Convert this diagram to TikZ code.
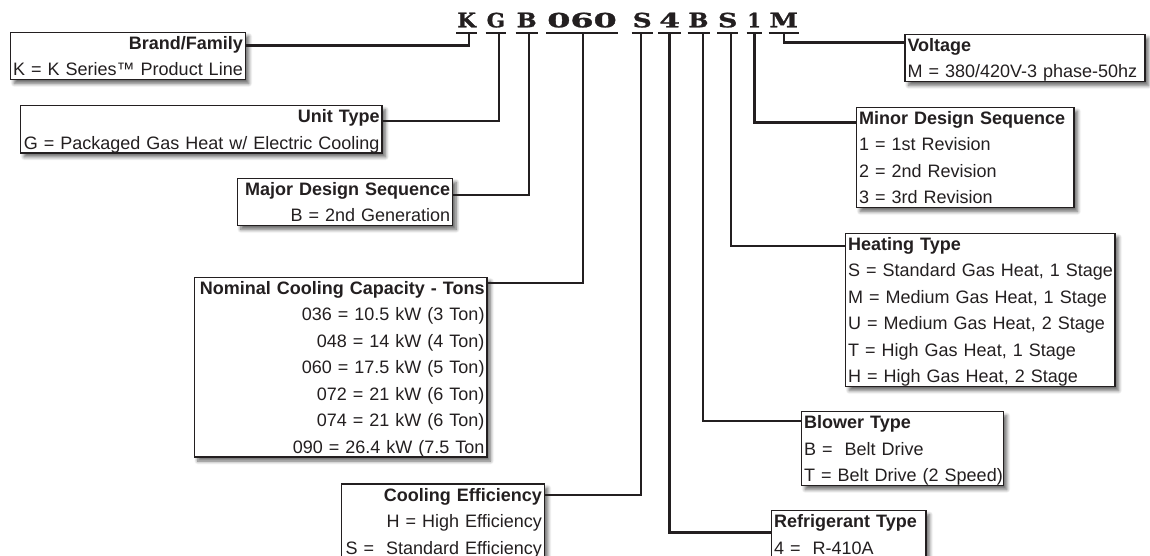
\documentclass[tikz,border=0pt]{standalone}
\usepackage{fontspec}
\usetikzlibrary{shadows.blur}
\newfontfamily\boxfont{Liberation Sans}
\newfontfamily\codefont{DejaVu Serif}[BoldFeatures={FakeBold=1.2}]
\definecolor{ink}{HTML}{231F20}
\newcommand{\boxstrut}{\rule[-3.7pt]{0pt}{20.7pt}}
\newcommand{\rline}[1]{\makebox[\hsize][r]{#1\boxstrut}}
\newcommand{\lline}[1]{\makebox[\hsize][l]{#1\boxstrut}}
\newcommand{\codeglyph}[2]{\resizebox{#1pt}{14.6pt}{\codefont\bfseries #2}}
\tikzset{
  infobox/.style={draw=ink, line width=1.2pt, fill=white, outer sep=0pt,
    inner xsep=2.5pt, inner ysep=0pt, anchor=north west, text=ink,
    font=\boxfont\fontsize{18}{26.5}\selectfont,
    blur shadow={shadow xshift=3.5pt, shadow yshift=-4pt, shadow blur radius=3.5pt, shadow blur steps=8, shadow opacity=60}},
  lbox/.style={infobox, align=right},
  rbox/.style={infobox, align=left},
  codeletter/.style={inner xsep=1pt, inner ysep=0pt, outer sep=0pt, text depth=6pt, anchor=base west, text=ink},
  uline/.style={draw=ink, line width=2.4pt},
  conn/.style={draw=ink, line width=2.4pt},
}
\begin{document}
\begin{tikzpicture}[x=1pt, y=-1pt]
\useasboundingbox (0,0) rectangle (1150,556);

% code letters
\node[codeletter] (cK)  at (456.3,27.3) {\codeglyph{18.7}{K}};
\node[codeletter] (cG)  at (485.7,27.3) {\codeglyph{18.3}{G}};
\node[codeletter] (cB)  at (515.7,27.3) {\codeglyph{20}{B}};
\node[codeletter] (cN)  at (546.3,27.3) {\codeglyph{69.4}{060}};
\node[codeletter] (cS)  at (631.7,27.3) {\codeglyph{19}{S}};
\node[codeletter] (c4)  at (658.3,27.3) {\codeglyph{20.7}{4}};
\node[codeletter] (cBb) at (687.5,27.3) {\codeglyph{20}{B}};
\node[codeletter] (cSb) at (717,27.3)   {\codeglyph{19.4}{S}};
\node[codeletter] (c1)  at (746.5,27.3) {\codeglyph{13.3}{1}};
\node[codeletter] (cM)  at (768.5,27.3) {\codeglyph{28.5}{M}};
\foreach \n in {cK,cG,cB,cN,cS,c4,cBb,cSb,c1,cM}
  \draw[uline] (\n.south west) -- (\n.south east);

% left boxes
\node[lbox, text width=229.6pt] (brand) at (10.7,32.3)
  {\rline{\textbf{Brand/Family}}\\\rline{K = K Series™ Product Line}};
\node[lbox, text width=356.3pt] (unit) at (20.7,105.7)
  {\rline{\textbf{Unit Type}}\\\rline{G = Packaged Gas Heat w/ Electric Cooling}};
\node[lbox, text width=210.4pt] (major) at (237.3,178.3)
  {\rline{\textbf{Major Design Sequence}}\\\rline{B = 2nd Generation}};
\node[lbox, text width=287.7pt] (nominal) at (194.3,277.3)
  {\rline{\textbf{Nominal Cooling Capacity - Tons}}\\
   \rline{036 = 10.5 kW (3 Ton)}\\
   \rline{048 = 14 kW (4 Ton)}\\
   \rline{060 = 17.5 kW (5 Ton)}\\
   \rline{072 = 21 kW (6 Ton)}\\
   \rline{074 = 21 kW (6 Ton)}\\
   \rline{090 = 26.4 kW (7.5 Ton}};
\node[lbox, text width=197.6pt] (cooleff) at (341.7,484)
  {\rline{\textbf{Cooling Efficiency}}\\
   \rline{H = High Efficiency}\\
   \rline{S = \ Standard Efficiency}};

% right boxes
\node[rbox, text width=235pt] (volt) at (905,34.3)
  {\lline{\textbf{Voltage}}\\\lline{M = 380/420V-3 phase-50hz}};
\node[rbox, text width=212.3pt] (minor) at (856.7,107.3)
  {\lline{\textbf{Minor Design Sequence}}\\
   \lline{1 = 1st Revision}\\
   \lline{2 = 2nd Revision}\\
   \lline{3 = 3rd Revision}};
\node[rbox, text width=264.3pt] (heat) at (845.7,233.3)
  {\lline{\textbf{Heating Type}}\\
   \lline{S = Standard Gas Heat, 1 Stage}\\
   \lline{M = Medium Gas Heat, 1 Stage}\\
   \lline{U = Medium Gas Heat, 2 Stage}\\
   \lline{T = High Gas Heat, 1 Stage}\\
   \lline{H = High Gas Heat, 2 Stage}};
\node[rbox, text width=196.6pt] (blower) at (801.7,411.7)
  {\lline{\textbf{Blower Type}}\\
   \lline{B = \ Belt Drive}\\
   \lline{T = Belt Drive (2 Speed)}};
\node[rbox, text width=149.3pt] (refrig) at (771.7,510.7)
  {\lline{\textbf{Refrigerant Type}}\\
   \lline{4 = \ R-410A}};

% connectors
\draw[conn] ([xshift=2.6pt]cK.south) |- ([yshift=-13.4pt]brand.north east);
\draw[conn] ([xshift=3pt]cG.south) |- ([yshift=-15.3pt]unit.north east);
\draw[conn] ([xshift=2pt]cB.south) |- ([yshift=-16.7pt]major.north east);
\draw[conn] ([xshift=1pt]cN.south) |- ([yshift=-5.4pt]nominal.north east);
\draw[conn] ([xshift=-1pt]cS.south) |- ([yshift=-11pt]cooleff.north east);
\draw[conn] (c4.south) |- ([yshift=-21.6pt]refrig.north west);
\draw[conn] ([xshift=4.5pt]cBb.south) |- ([yshift=-9.3pt]blower.north west);
\draw[conn] ([xshift=3pt]cSb.south) |- ([yshift=-12.4pt]heat.north west);
\draw[conn] ([xshift=0.5pt]c1.south) |- ([yshift=-15.4pt]minor.north west);
\draw[conn] (cM.south) |- ([yshift=-8.4pt]volt.north west);
\end{tikzpicture}
\end{document}
